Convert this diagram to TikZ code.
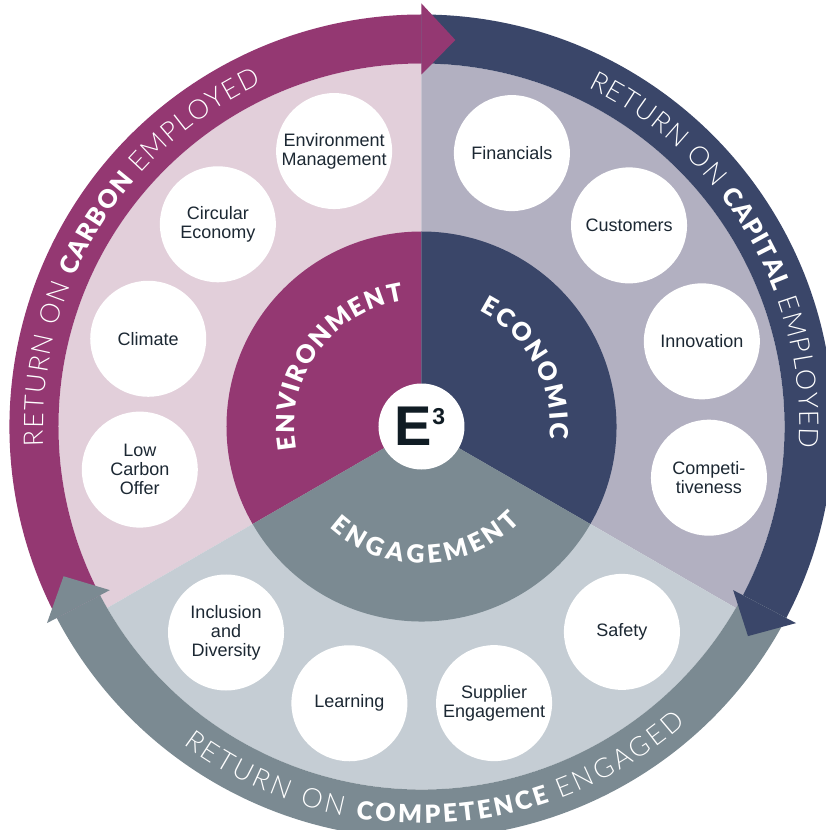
\documentclass[tikz,border=0pt]{standalone}
\usepackage{fontspec}
\setmainfont{Liberation Sans}
\IfFontExistsTF{Lato Light}{\newfontfamily\bandfont{Lato Light}}{\newfontfamily\bandfont{Liberation Sans}}
\IfFontExistsTF{Lato Black}{\newfontfamily\heavyfont{Lato Black}}{\newfontfamily\heavyfont{Liberation Sans Bold}}
\usetikzlibrary{decorations.text}

\definecolor{carbon}{HTML}{943872}
\definecolor{capital}{HTML}{3A4669}
\definecolor{competence}{HTML}{7B8A92}
\definecolor{carbonlight}{HTML}{E2CFDA}
\definecolor{capitallight}{HTML}{B2B0C1}
\definecolor{competencelight}{HTML}{C5CDD4}
\definecolor{ink}{HTML}{1C2833}
\definecolor{coreink}{HTML}{101C24}

\newcommand\bandlight{\bandfont\fontsize{27}{27}\selectfont}
\newcommand\bandheavy{\heavyfont\fontsize{25}{25}\selectfont}
\newcommand\pillar{\heavyfont\fontsize{25}{25}\selectfont}

\begin{document}
\begin{tikzpicture}[x=1pt, y=1pt,
    topic/.style={circle, fill=white, minimum size=116pt, inner sep=0pt, align=center, text=ink, font=\fontsize{18}{19}\selectfont},
    core/.style={circle, fill=white, minimum size=86pt, inner sep=0pt, text=coreink},
    curved/.style={decorate, decoration={text along path, text align=fit to path, text color=white, text={#1}}}]
	\useasboundingbox (-421.5,-403.5) rectangle (404.5,426.5);
	\clip (-421.5,-403.5) rectangle (404.5,426.5);
	% light sectors behind the topics
	\fill[carbonlight] (0,0) -- (90:363) arc[start angle=90, end angle=210, radius=363] -- cycle;
	\fill[capitallight] (0,0) -- (-30:363) arc[start angle=-30, end angle=90, radius=363] -- cycle;
	\fill[competencelight] (0,0) -- (210:363) arc[start angle=210, end angle=330, radius=363] -- cycle;
	% outer bands, all running clockwise
	\foreach \col/\from/\to in {carbon/207.7/90, capital/90/-27.7, competence/-27.7/-152.3}
		\fill[\col] (\from:412) arc[start angle=\from, end angle=\to, radius=412] -- (\to:363) arc[start angle=\to, end angle=\from, radius=363] -- cycle;
	% arrow heads on top of the next band
	\foreach \col/\to in {carbon/90, capital/-27.7, competence/207.7}
		\fill[\col] (\to:423) -- ({\to-5}:388) -- (\to:352) -- cycle;
	% inner pillars
	\fill[carbon] (0,0) -- (90:195) arc[start angle=90, end angle=210, radius=195] -- cycle;
	\fill[capital] (0,0) -- (-30:195) arc[start angle=-30, end angle=90, radius=195] -- cycle;
	\fill[competence] (0,0) -- (210:195) arc[start angle=210, end angle=330, radius=195] -- cycle;
	% topics
	\foreach \ang/\rad/\nm/\txt in {107.6/289/envmgmt/{Environment\\Management}, 135.2/287/circular/{Circular\\Economy}, 162.2/287/climate/Climate, 188.7/285/lowcarbon/{Low\\Carbon\\Offer},
		71.7/288/financials/Financials, 44.1/289/customers/Customers, 16.9/293/innovation/Innovation, -10.1/292/competitive/{Competi-\\tiveness},
		226.5/284/inclusion/{Inclusion\\and\\Diversity}, 255.4/286/learning/Learning, 284.7/286/supplier/{Supplier\\Engagement}, 314.3/287/safety/Safety}
		\node[topic] (\nm) at (\ang:\rad) {\txt};
	\node[core] (core) at (0,0) {\hspace*{-3pt}\fontsize{56}{56}\selectfont\bfseries E\raisebox{21pt}{\fontsize{23}{23}\selectfont 3}};
	% pillar names
	\path[curved={|\pillar|ENVIRONMENT}] (190.5:127) arc[start angle=190.5, end angle=98, radius=127];
	\path[curved={|\pillar|ECONOMIC}] (63.4:129) arc[start angle=63.4, end angle=-5.6, radius=129];
	\path[curved={|\pillar|ENGAGEMENT}] (227.7:137) arc[start angle=227.7, end angle=316, radius=137];
	% band captions
	\path[curved={|\bandlight|RETURN ON |\bandheavy|CARBON |\bandlight|EMPLOYED}] (183:378) arc[start angle=183, end angle=115, radius=378];
	\path[curved={|\bandlight|RETURN ON |\bandheavy|CAPITAL |\bandlight|EMPLOYED}] (63.8:378) arc[start angle=63.8, end angle=-3.2, radius=378];
	\path[curved={|\bandlight|RETURN ON |\bandheavy|COMPETENCE |\bandlight|ENGAGED}] (233.1:397) arc[start angle=233.1, end angle=311.7, radius=397];
\end{tikzpicture}
\end{document}
